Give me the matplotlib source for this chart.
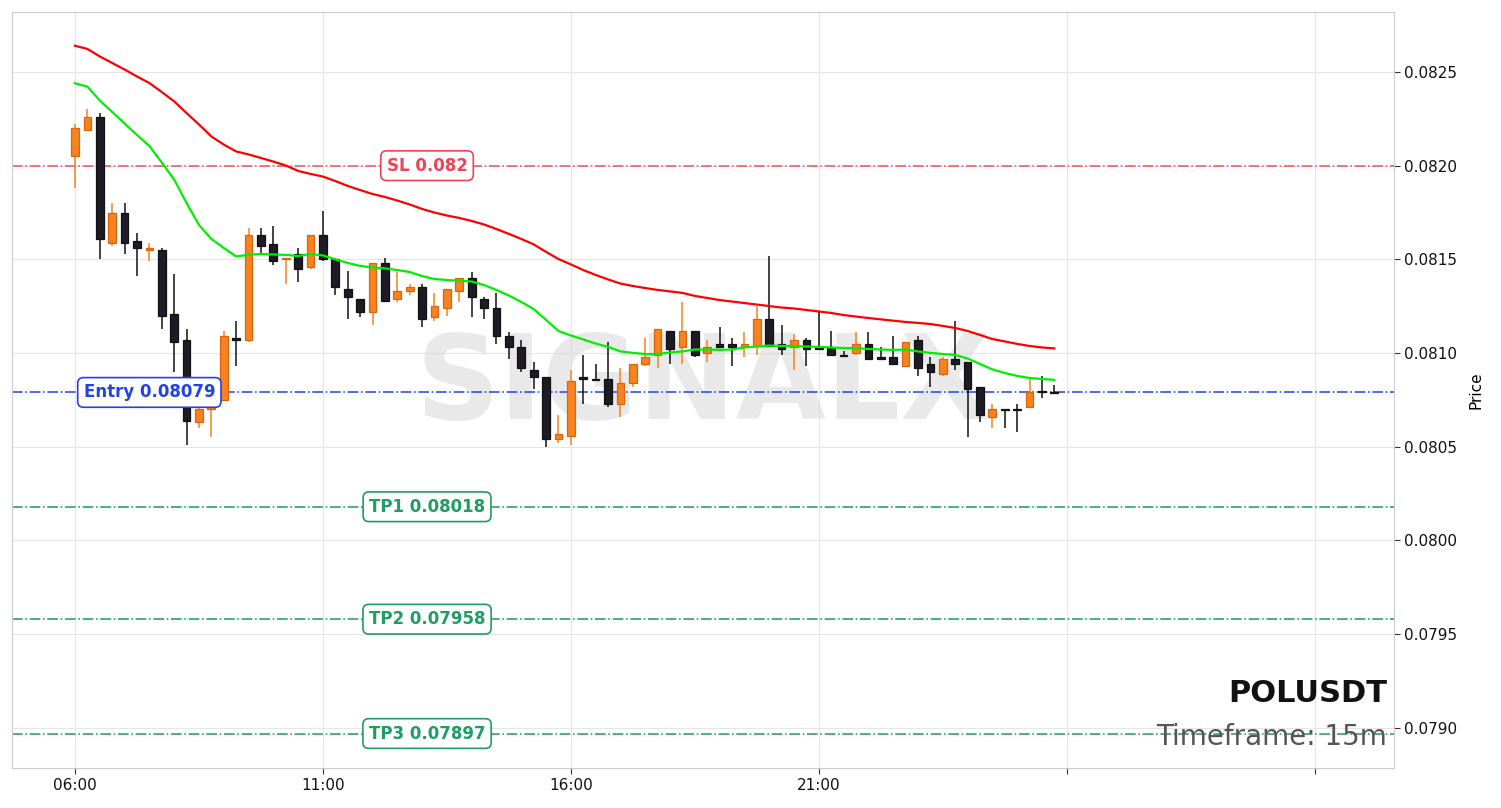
import matplotlib
matplotlib.use("Agg")
import matplotlib.pyplot as plt
import numpy as np

# ---- data (15m candles starting 06:00) ----
opens = [0.08205, 0.08219, 0.08226, 0.08159, 0.08175, 0.08160, 0.08155, 0.08155, 0.08121, 0.08107,
         0.08063, 0.08070, 0.08075, 0.08108, 0.08107, 0.08163, 0.08158, 0.08150, 0.08153, 0.08146,
         0.08163, 0.08150, 0.08134, 0.08129, 0.08122, 0.08148, 0.08129, 0.08133, 0.08135, 0.08119,
         0.08124, 0.08133, 0.08140, 0.08129, 0.08124, 0.08109, 0.08103, 0.08091, 0.08087, 0.08054,
         0.08056, 0.08087, 0.080862, 0.08086, 0.08073, 0.08084, 0.08094, 0.08099, 0.08112, 0.08103,
         0.08112, 0.08100, 0.08105, 0.08105, 0.08103, 0.08104, 0.08118, 0.08105, 0.08103, 0.08107,
         0.08103, 0.08103, 0.080990, 0.08100, 0.08105, 0.08098, 0.08098, 0.08093, 0.08107, 0.08094,
         0.08089, 0.08097, 0.08095, 0.08082, 0.08066, 0.080700, 0.080700, 0.08071, 0.08080, 0.080789]
highs = [0.08222, 0.08230, 0.08228, 0.08180, 0.08180, 0.08164, 0.08159, 0.08156, 0.08142, 0.08113,
         0.08072, 0.08080, 0.08112, 0.08117, 0.08167, 0.08167, 0.08168, 0.08151, 0.08156, 0.08163,
         0.08176, 0.08151, 0.08144, 0.08129, 0.08148, 0.08151, 0.08143, 0.08137, 0.08137, 0.08132,
         0.08134, 0.08140, 0.08143, 0.08130, 0.08132, 0.08111, 0.08107, 0.08095, 0.08087, 0.08067,
         0.08091, 0.08099, 0.08094, 0.08106, 0.08092, 0.08094, 0.08108, 0.08113, 0.08112, 0.08127,
         0.08112, 0.08107, 0.08114, 0.08108, 0.08111, 0.08125, 0.08152, 0.08115, 0.08110, 0.08108,
         0.08122, 0.08112, 0.08101, 0.08111, 0.08111, 0.08103, 0.08109, 0.08106, 0.08109, 0.08098,
         0.08098, 0.08117, 0.08095, 0.08082, 0.08073, 0.08070, 0.08073, 0.08086, 0.08088, 0.08083]
lows = [0.08188, 0.08219, 0.08150, 0.08157, 0.08153, 0.08141, 0.08149, 0.08113, 0.08090, 0.08051,
        0.08060, 0.08055, 0.08075, 0.08093, 0.08106, 0.08153, 0.08147, 0.08137, 0.08138, 0.08145,
        0.08149, 0.08131, 0.08118, 0.08119, 0.08115, 0.08127, 0.08127, 0.08131, 0.08114, 0.08117,
        0.08120, 0.08127, 0.08119, 0.08118, 0.08105, 0.08097, 0.08090, 0.08081, 0.08050, 0.08052,
        0.08051, 0.08073, 0.08085, 0.08071, 0.08066, 0.08082, 0.08093, 0.08092, 0.08094, 0.08094,
        0.08098, 0.08095, 0.08103, 0.08093, 0.08098, 0.08099, 0.08104, 0.08099, 0.08091, 0.08093,
        0.08102, 0.08099, 0.08098, 0.08099, 0.08097, 0.08097, 0.08094, 0.08093, 0.08088, 0.08082,
        0.08088, 0.08091, 0.08055, 0.08063, 0.08060, 0.08060, 0.08058, 0.08071, 0.08076, 0.08079]
closes = [0.08220, 0.08226, 0.08161, 0.08175, 0.08159, 0.08156, 0.08156, 0.08120, 0.08106, 0.08064,
          0.08070, 0.08076, 0.08109, 0.08107, 0.08163, 0.08157, 0.08149, 0.08151, 0.08145, 0.08163,
          0.08150, 0.08135, 0.08130, 0.08122, 0.08148, 0.08128, 0.08133, 0.08135, 0.08118, 0.08125,
          0.08134, 0.08140, 0.08130, 0.08124, 0.08109, 0.08103, 0.08092, 0.08087, 0.08054, 0.08057,
          0.08085, 0.08086, 0.080858, 0.08073, 0.08084, 0.08094, 0.08098, 0.08113, 0.08102, 0.08112,
          0.08099, 0.08103, 0.08103, 0.08103, 0.08105, 0.08118, 0.08104, 0.08102, 0.08107, 0.08102,
          0.08102, 0.08099, 0.080986, 0.08105, 0.08097, 0.08097, 0.08094, 0.08106, 0.08092, 0.08090,
          0.08097, 0.08094, 0.08081, 0.08067, 0.08070, 0.080696, 0.080697, 0.08079, 0.08079, 0.080786]

ema_slow = [0.082640, 0.082623, 0.082583, 0.082548, 0.082513, 0.082476, 0.082441, 0.082393, 0.082343, 0.082281,
            0.082220, 0.082156, 0.082113, 0.082076, 0.082060, 0.082041, 0.082022, 0.082001, 0.081972, 0.081956,
            0.081942, 0.081918, 0.081892, 0.081870, 0.081849, 0.081833, 0.081814, 0.081793, 0.081769, 0.081750,
            0.081734, 0.081721, 0.081705, 0.081686, 0.081662, 0.081636, 0.081609, 0.081580, 0.081540, 0.081502,
            0.081473, 0.081443, 0.081417, 0.081393, 0.081371, 0.081358, 0.081347, 0.081337, 0.081329, 0.081321,
            0.081305, 0.081294, 0.081283, 0.081275, 0.081267, 0.081259, 0.081251, 0.081243, 0.081238, 0.081230,
            0.081222, 0.081214, 0.081203, 0.081195, 0.081187, 0.081180, 0.081173, 0.081166, 0.081161, 0.081155,
            0.081145, 0.081134, 0.081118, 0.081097, 0.081075, 0.081062, 0.081049, 0.081038, 0.081030, 0.081025]
ema_fast = [0.082440, 0.082422, 0.082348, 0.082287, 0.082225, 0.082164, 0.082105, 0.082017, 0.081926, 0.081801,
            0.081684, 0.081609, 0.081561, 0.081516, 0.081524, 0.081529, 0.081526, 0.081524, 0.081518, 0.081529,
            0.081521, 0.081500, 0.081481, 0.081465, 0.081457, 0.081452, 0.081443, 0.081433, 0.081411, 0.081395,
            0.081390, 0.081386, 0.081382, 0.081363, 0.081337, 0.081307, 0.081273, 0.081235, 0.081177, 0.081118,
            0.081094, 0.081073, 0.081051, 0.081033, 0.081009, 0.081001, 0.080995, 0.080995, 0.081003, 0.081009,
            0.081019, 0.081019, 0.081017, 0.081019, 0.081030, 0.081035, 0.081040, 0.081038, 0.081038, 0.081035,
            0.081033, 0.081030, 0.081027, 0.081026, 0.081022, 0.081019, 0.081017, 0.081019, 0.081009, 0.081001,
            0.080995, 0.080990, 0.080971, 0.080942, 0.080913, 0.080894, 0.080878, 0.080867, 0.080862, 0.080857]

tick_labels = ["06:00", "11:00", "16:00", "21:00", "", ""]
tick_pos = [0, 20, 40, 60, 80, 100]

levels = {"SL": 0.082, "Entry": 0.08079, "TP1": 0.08018, "TP2": 0.07958, "TP3": 0.07897}
level_labels = ["SL 0.082", "Entry 0.08079", "TP1 0.08018", "TP2 0.07958", "TP3 0.07897"]
symbol = "POLUSDT"
timeframe = "Timeframe: 15m"

# ---- figure ----
fig = plt.figure(figsize=(15.01, 8.08), dpi=100)
ax = fig.add_axes([12 / 1501, 40 / 808, 1382 / 1501, 756 / 808])

x = np.arange(len(opens))
o = np.array(opens); h = np.array(highs); l = np.array(lows); c = np.array(closes)
up = c >= o
UP_FILL, UP_EDGE = "#f7821f", "#d9650e"
DN_FILL, DN_EDGE = "#1f1b26", "#111111"

ax.vlines(x[up], l[up], h[up], color=UP_FILL, lw=1.1, zorder=3)
ax.vlines(x[~up], l[~up], h[~up], color="#111111", lw=1.1, zorder=3)
body = np.maximum(np.abs(c - o), 0.000004)
bottom = np.minimum(o, c)
ax.bar(x[up], body[up], bottom=bottom[up], width=0.62, color=UP_FILL,
       edgecolor=UP_EDGE, linewidth=0.9, zorder=4)
ax.bar(x[~up], body[~up], bottom=bottom[~up], width=0.62, color=DN_FILL,
       edgecolor=DN_EDGE, linewidth=0.9, zorder=4)

ax.plot(x, ema_slow, color="#ff0000", lw=1.6, zorder=5)
ax.plot(x, ema_fast, color="#00ee00", lw=1.6, zorder=5)

# levels
lvl_style = {
    "SL": ("#f25c68", "#ee4455", 28.4),
    "Entry": ("#3050f0", "#2342e6", 6.0),
    "TP1": ("#2ea36c", "#1f9d63", 28.4),
    "TP2": ("#2ea36c", "#1f9d63", 28.4),
    "TP3": ("#2ea36c", "#1f9d63", 28.4),
}
for (name, val), lab in zip(levels.items(), level_labels):
    lc, tc, xp = lvl_style[name]
    ax.axhline(val, color=lc, lw=1.2, ls="-.", zorder=2)
    ax.text(xp, val, lab, ha="center", va="center", fontsize=12, fontweight="bold",
            color=tc, zorder=7,
            bbox=dict(boxstyle="round,pad=0.35", fc="white", ec=tc, lw=1.2))

# watermark
ax.text(0.5, 0.505, "SIGNALX", transform=ax.transAxes, ha="center", va="center",
        fontsize=84, fontweight="bold", color="#d8d8d8", alpha=0.55, zorder=1)

ax.text(0.995, 0.098, symbol, transform=ax.transAxes, ha="right", va="center",
        fontsize=22, fontweight="bold", color="#111111", zorder=8)
ax.text(0.995, 0.041, timeframe, transform=ax.transAxes, ha="right", va="center",
        fontsize=20, color="#555555", zorder=8)

ax.set_xlim(-5.08, 106.4)
ax.set_ylim(0.078786, 0.082820)
ax.set_xticks(tick_pos)
ax.set_xticklabels(tick_labels, fontsize=11)
ax.set_yticks(np.arange(0.0790, 0.08251, 0.0005))
ax.set_yticklabels([f"{v:.4f}" for v in np.arange(0.0790, 0.08251, 0.0005)], fontsize=11)
ax.yaxis.tick_right()
ax.yaxis.set_label_position("right")
ax.set_ylabel("Price", fontsize=11, labelpad=8)
ax.grid(True, color="#e6e6e6", lw=0.8, zorder=0)
ax.set_axisbelow(True)
for s in ax.spines.values():
    s.set_color("#cccccc")
ax.tick_params(axis="both", length=4, color="#333333", colors="#111111")

fig.savefig("out.png", dpi=100)
